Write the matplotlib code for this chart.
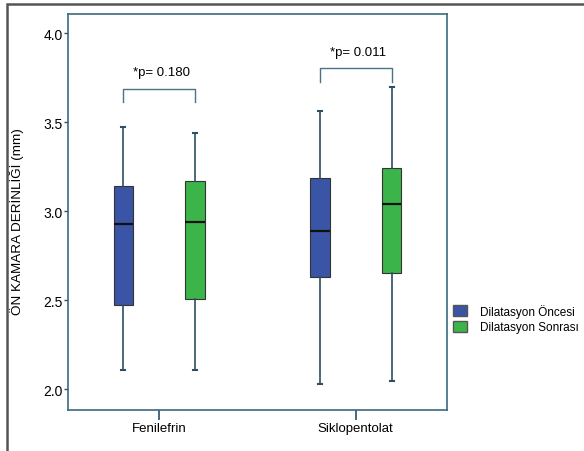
import matplotlib.pyplot as plt
from matplotlib.patches import Patch, Rectangle

plt.rcParams['font.family'] = ['Liberation Sans Narrow', 'Liberation Sans', 'DejaVu Sans']

# data (box statistics)
groups = ['Fenilefrin', 'Siklopentolat']
series = ['Dilatasyon Öncesi', 'Dilatasyon Sonrası']
colors = ['#3a55a5', '#3bb44a']

whislo = [[2.108, 2.030], [2.108, 2.045]]
q1 = [[2.475, 2.629], [2.507, 2.652]]
med = [[2.929, 2.891], [2.938, 3.041]]
q3 = [[3.144, 3.187], [3.172, 3.243]]
whishi = [[3.472, 3.565], [3.438, 3.697]]

p_texts = ['*p= 0.180', '*p= 0.011']
bracket_top = [3.687, 3.803]
bracket_low = [3.612, 3.725]

fig = plt.figure(figsize=(5.84, 4.52), dpi=100)
ax = fig.add_axes([0.1164, 0.0914, 0.649, 0.8754])

line_col = '#2c4f63'
offset = 0.183

for s in range(2):
    stats = []
    for g in range(2):
        stats.append(dict(med=med[s][g], q1=q1[s][g], q3=q3[s][g],
                          whislo=whislo[s][g], whishi=whishi[s][g], fliers=[]))
    pos = [g + (2 * s - 1) * offset for g in range(2)]
    ax.bxp(stats, positions=pos, widths=0.10, patch_artist=True, showfliers=False,
           capwidths=0.02,
           boxprops=dict(facecolor=colors[s], edgecolor='#333333', linewidth=0.8),
           medianprops=dict(color='#111111', linewidth=1.6),
           whiskerprops=dict(color=line_col, linewidth=1.2),
           capprops=dict(color=line_col, linewidth=1.5))

# significance brackets
for g in range(2):
    x0, x1 = g - offset, g + offset
    ax.plot([x0, x0, x1, x1], [bracket_low[g], bracket_top[g], bracket_top[g], bracket_low[g]],
            color='#4a7388', linewidth=1.0)
    ax.text(g + 0.01, bracket_top[g] + 0.06, p_texts[g], ha='center', va='bottom', fontsize=9.5)

ax.set_xlim(-0.465, 1.465)
ax.set_ylim(1.884, 4.108)
ax.set_xticks(range(2))
ax.set_xticklabels(groups, fontsize=9.5)
ax.set_yticks([2.0, 2.5, 3.0, 3.5, 4.0])
ax.set_yticklabels(['2.0', '2.5', '3.0', '3.5', '4.0'], fontsize=10)
ax.tick_params(axis='y', length=3, color=line_col, width=1, pad=1)
ax.tick_params(axis='x', length=7, color=line_col, width=1.2, pad=2)
for sp in ax.spines.values():
    sp.set_color('#3b6a80')
    sp.set_linewidth(1.2)

fig.text(17 / 584, 1 - 222 / 452, 'ÖN KAMARA DERİNLİĞİ (mm)', rotation=90,
         ha='center', va='center', fontsize=9.7)

handles = [Patch(facecolor=c, edgecolor='#555555') for c in colors]
fig.legend(handles, series, loc='center left', bbox_to_anchor=(453 / 584, 1 - 319.5 / 452),
           frameon=False, fontsize=8.5, handlelength=1.18, handleheight=1.1,
           handletextpad=1.1, labelspacing=0.26, borderpad=0, borderaxespad=0)

# outer frame
fig.patches.append(Rectangle((7 / 584, -0.1), 1.2, 1 - 5 / 452 + 0.1, transform=fig.transFigure,
                             fill=False, edgecolor='#555555', linewidth=1.8))

fig.savefig('out.png', dpi=100)
